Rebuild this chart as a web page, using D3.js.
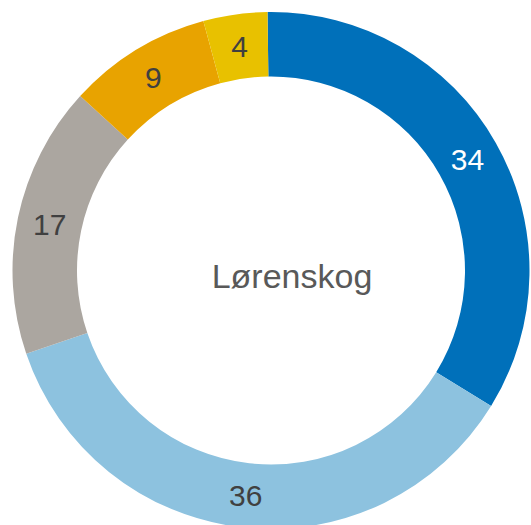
<!DOCTYPE html>
<html><head><meta charset="utf-8">
<script src="https://cdn.jsdelivr.net/npm/d3@7"></script>
<style>body{margin:0;background:#fff}svg{display:block}</style>
</head><body>
<svg id="c" width="531" height="525"></svg>
<script>
const categories = ["A","B","C","D","E"];
const values = [34, 36, 17, 9, 4];
const colors = ["#0070BA", "#8DC2DF", "#ABA6A0", "#E8A300", "#E8C100"];
const labelColors = ["#ffffff", "#404040", "#404040", "#404040", "#404040"];
const centerLabel = "Lørenskog";

const svg = d3.select("#c");
const cx = 271, cy = 270.5, R = 258.5, r = 194;
const g = svg.append("g").attr("transform", `translate(${cx},${cy})`);
const pie = d3.pie().sort(null).value(d => d).startAngle(-0.0135).endAngle(2*Math.PI - 0.0135);
const arcs = pie(values);
const arc = d3.arc().innerRadius(r).outerRadius(R);
const labelArc = d3.arc().innerRadius(226).outerRadius(226);
g.selectAll("path").data(arcs).join("path")
  .attr("d", arc).attr("fill", (d,i) => colors[i]);
g.selectAll("text.v").data(arcs).join("text").attr("class","v")
  .attr("transform", d => `translate(${labelArc.centroid(d)})`)
  .attr("text-anchor","middle").attr("dy","0.36em")
  .attr("font-family","Liberation Sans, Arial, sans-serif").attr("font-size",30)
  .attr("fill", (d,i) => labelColors[i]).text(d => d.data);
g.append("text").attr("x", 21).attr("y", 17).attr("text-anchor","middle")
  .attr("font-family","Liberation Sans, Arial, sans-serif").attr("font-size",34)
  .attr("fill","#595959").text(centerLabel);
</script>
</body></html>
